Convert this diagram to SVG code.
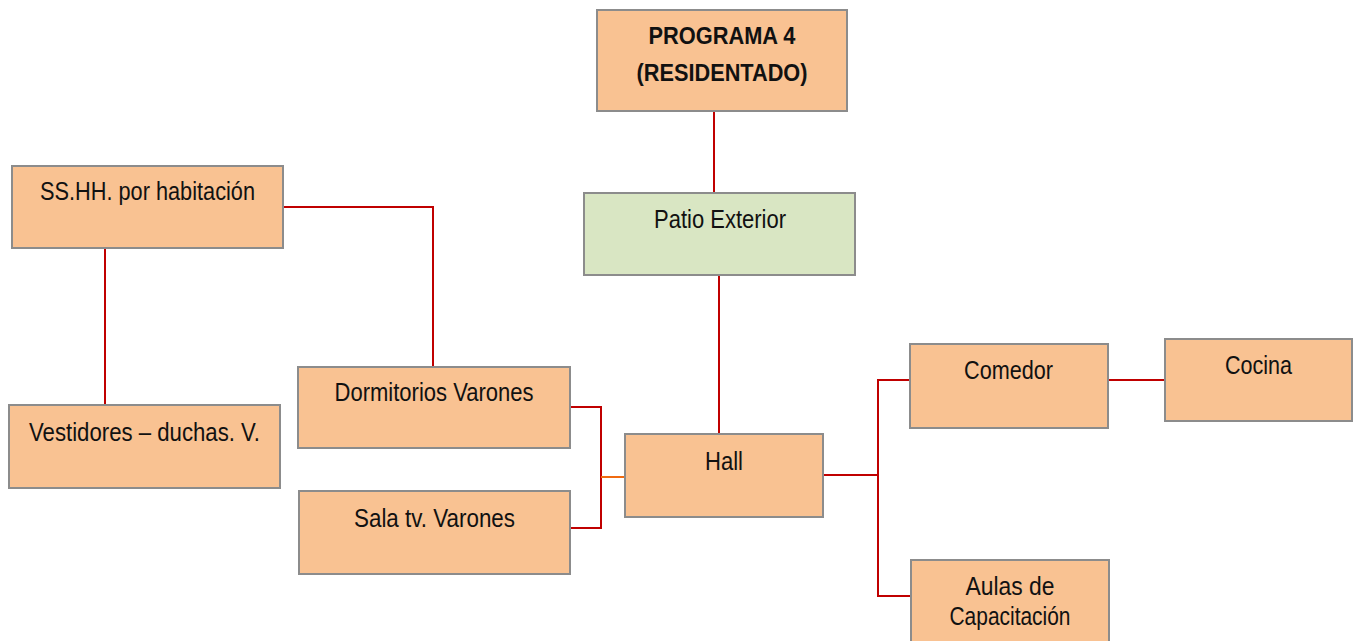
<svg xmlns="http://www.w3.org/2000/svg" width="1360" height="641" viewBox="0 0 1360 641">
<style>
.box{fill:#f9c292;stroke:#8c8c8c;stroke-width:2}
.green{fill:#d9e6c3;stroke:#8c8c8c;stroke-width:2}
.t{font-family:"Liberation Sans",Arial,sans-serif;font-size:25px;fill:#111;text-anchor:middle}
.b{font-weight:bold;font-size:24px}
.c{fill:none;stroke:#c00000;stroke-width:2}
.o{fill:none;stroke:#f06a10;stroke-width:2}
</style>
<rect width="1360" height="641" fill="#fff"/>
<g id="connectors">
<path class="c" d="M714 111V193"/>
<path class="c" d="M719 275V434"/>
<path class="c" d="M105 248V405"/>
<path class="c" d="M283 207H433V367"/>
<path class="c" d="M570 407H601V528H570"/>
<path class="o" d="M601 477H625"/>
<path class="c" d="M823 475H878"/>
<path class="c" d="M910 380H878V596H911"/>
<path class="c" d="M1108 380H1165"/>
</g>
<g id="programa">
<rect class="box" x="597" y="10" width="250" height="101"/>
<text class="t b" x="722" y="44" textLength="147" lengthAdjust="spacingAndGlyphs">PROGRAMA 4</text>
<text class="t b" x="722" y="81" textLength="171" lengthAdjust="spacingAndGlyphs">(RESIDENTADO)</text>
</g>
<g id="patio">
<rect class="green" x="584" y="193" width="271" height="82"/>
<text class="t" x="720" y="228" textLength="132" lengthAdjust="spacingAndGlyphs">Patio Exterior</text>
</g>
<g id="sshh">
<rect class="box" x="12" y="166" width="271" height="82"/>
<text class="t" x="147.5" y="200" textLength="215" lengthAdjust="spacingAndGlyphs">SS.HH. por habitación</text>
</g>
<g id="vestidores">
<rect class="box" x="9" y="405" width="271" height="83"/>
<text class="t" x="144.5" y="441" textLength="231" lengthAdjust="spacingAndGlyphs">Vestidores – duchas. V.</text>
</g>
<g id="dormitorios">
<rect class="box" x="298" y="367" width="272" height="81"/>
<text class="t" x="434" y="401" textLength="199" lengthAdjust="spacingAndGlyphs">Dormitorios Varones</text>
</g>
<g id="salatv">
<rect class="box" x="299" y="491" width="271" height="83"/>
<text class="t" x="434.5" y="527" textLength="161" lengthAdjust="spacingAndGlyphs">Sala tv. Varones</text>
</g>
<g id="hall">
<rect class="box" x="625" y="434" width="198" height="83"/>
<text class="t" x="724" y="470" textLength="38" lengthAdjust="spacingAndGlyphs">Hall</text>
</g>
<g id="comedor">
<rect class="box" x="910" y="344" width="198" height="84"/>
<text class="t" x="1008.5" y="379" textLength="89" lengthAdjust="spacingAndGlyphs">Comedor</text>
</g>
<g id="cocina">
<rect class="box" x="1165" y="339" width="187" height="82"/>
<text class="t" x="1258.5" y="374" textLength="67" lengthAdjust="spacingAndGlyphs">Cocina</text>
</g>
<g id="aulas">
<rect class="box" x="911" y="560" width="198" height="90"/>
<text class="t" x="1010" y="595" textLength="89" lengthAdjust="spacingAndGlyphs">Aulas de</text>
<text class="t" x="1010" y="625" textLength="121" lengthAdjust="spacingAndGlyphs">Capacitación</text>
</g>
</svg>
